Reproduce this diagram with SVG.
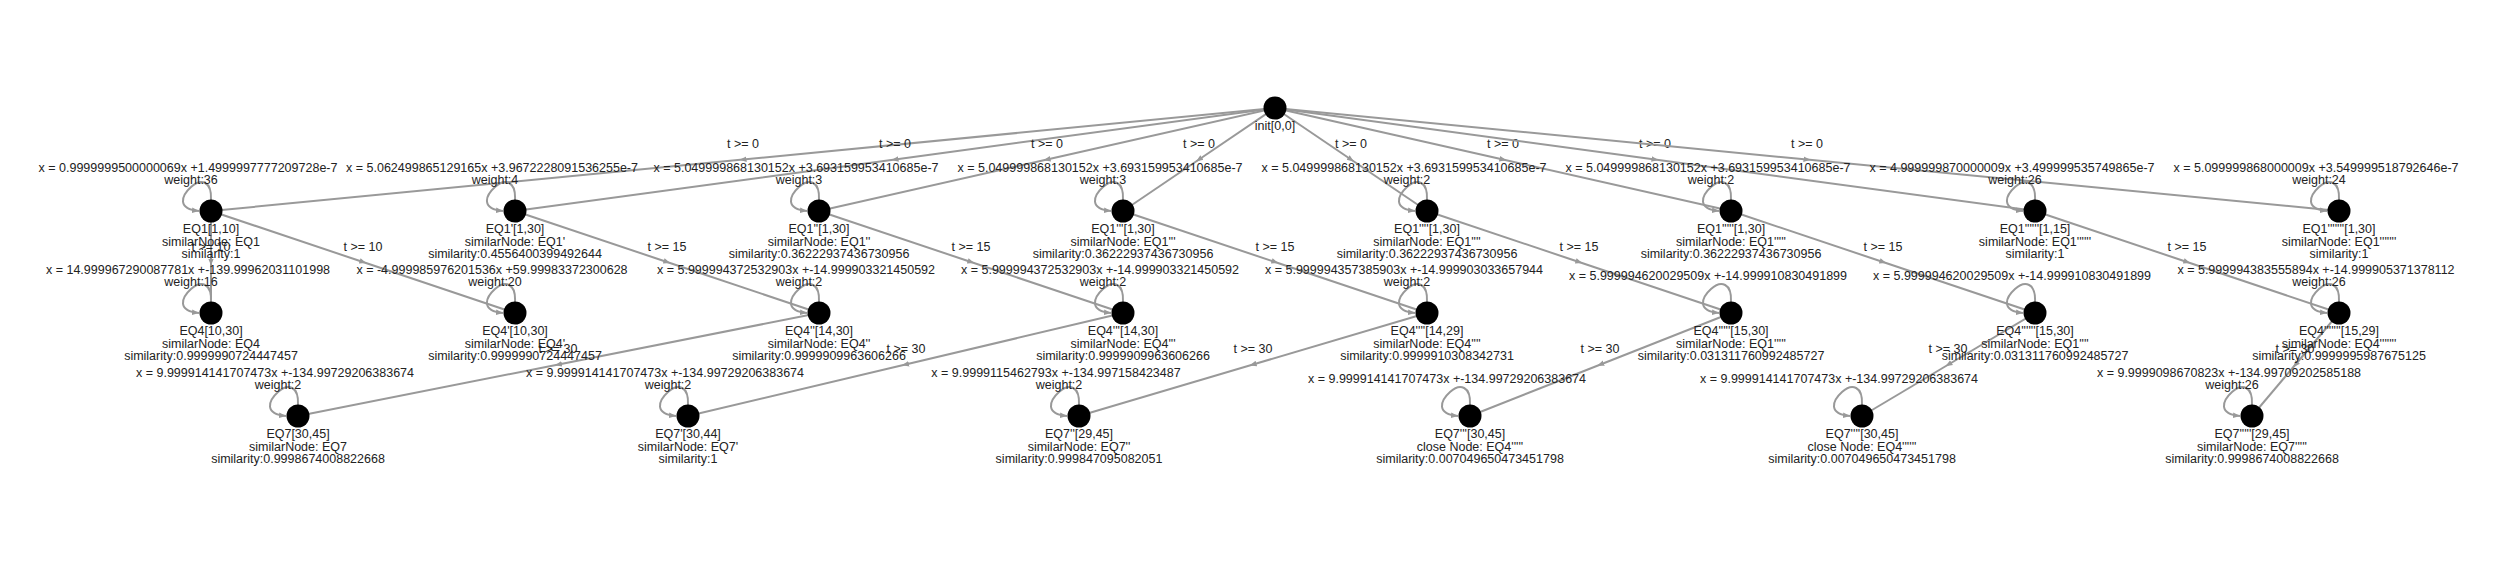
<svg xmlns="http://www.w3.org/2000/svg" width="2500" height="562" viewBox="0 0 2500 562">
<style>
text{font-family:"Liberation Sans",Arial,sans-serif;font-size:12.5px;fill:#222;text-anchor:middle}
.eq{transform:translateX(-23px)}
.w{transform:translateX(-20px)}
.edge{fill:none;stroke:#999;stroke-width:2;marker-mid:url(#amid)}
.loop{fill:none;stroke:#999;stroke-width:2;marker-end:url(#aend)}
circle{fill:#000}
</style>
<defs>
<marker id="amid" viewBox="0 -5 10 10" refX="5" refY="0" markerWidth="7" markerHeight="7" markerUnits="userSpaceOnUse" orient="auto"><path d="M0,-4L10,0L0,4Z" fill="#999"/></marker>
<marker id="aend" viewBox="0 -5 10 10" refX="10" refY="0" markerWidth="7" markerHeight="7" markerUnits="userSpaceOnUse" orient="auto"><path d="M0,-4L10,0L0,4Z" fill="#999"/></marker>
</defs>
<rect width="2500" height="562" fill="#fff"/>
<g id="connectors">
<path class="edge" d="M1275,108L743,159.5L211,211"/><text x="743" y="148">t &gt;= 0</text>
<path class="edge" d="M1275,108L895,159.5L515,211"/><text x="895" y="148">t &gt;= 0</text>
<path class="edge" d="M1275,108L1047,159.5L819,211"/><text x="1047" y="148">t &gt;= 0</text>
<path class="edge" d="M1275,108L1199,159.5L1123,211"/><text x="1199" y="148">t &gt;= 0</text>
<path class="edge" d="M1275,108L1351,159.5L1427,211"/><text x="1351" y="148">t &gt;= 0</text>
<path class="edge" d="M1275,108L1503,159.5L1731,211"/><text x="1503" y="148">t &gt;= 0</text>
<path class="edge" d="M1275,108L1655,159.5L2035,211"/><text x="1655" y="148">t &gt;= 0</text>
<path class="edge" d="M1275,108L1807,159.5L2339,211"/><text x="1807" y="148">t &gt;= 0</text>
<path class="edge" d="M211,211L211,262L211,313"/><text x="211" y="251">t &gt;= 10</text>
<path class="edge" d="M211,211L363,262L515,313"/><text x="363" y="251">t &gt;= 10</text>
<path class="edge" d="M515,211L667,262L819,313"/><text x="667" y="251">t &gt;= 15</text>
<path class="edge" d="M819,211L971,262L1123,313"/><text x="971" y="251">t &gt;= 15</text>
<path class="edge" d="M1123,211L1275,262L1427,313"/><text x="1275" y="251">t &gt;= 15</text>
<path class="edge" d="M1427,211L1579,262L1731,313"/><text x="1579" y="251">t &gt;= 15</text>
<path class="edge" d="M1731,211L1883,262L2035,313"/><text x="1883" y="251">t &gt;= 15</text>
<path class="edge" d="M2035,211L2187,262L2339,313"/><text x="2187" y="251">t &gt;= 15</text>
<path class="edge" d="M819,313L558.5,364.5L298,416"/><text x="558" y="353">t &gt;= 30</text>
<path class="edge" d="M1123,313L905.5,364.5L688,416"/><text x="906" y="353">t &gt;= 30</text>
<path class="edge" d="M1427,313L1253,364.5L1079,416"/><text x="1253" y="353">t &gt;= 30</text>
<path class="edge" d="M1731,313L1600.5,364.5L1470,416"/><text x="1600" y="353">t &gt;= 30</text>
<path class="edge" d="M2035,313L1948.5,364.5L1862,416"/><text x="1948" y="353">t &gt;= 30</text>
<path class="edge" d="M2339,313L2295.5,364.5L2252,416"/><text x="2295" y="353">t &gt;= 30</text>
</g>
<g id="init"><circle cx="1275" cy="108" r="11.5"/><text x="1275" y="130">init[0,0]</text></g>
<g id="EQ1_0" transform="translate(211,211)"><path class="loop" d="M0,-11C1,-30 -10,-33 -20,-24C-30,-15 -34,-2 -12,0"/><circle r="11.5"/><text class="eq" y="-39">x = 0.9999999500000069x +1.4999997777209728e-7</text><text class="w" y="-27">weight:36</text><text y="22">EQ1[1,10]</text><text y="34.5">similarNode: EQ1</text><text y="47">similarity:1</text></g>
<g id="EQ1_1" transform="translate(515,211)"><path class="loop" d="M0,-11C1,-30 -10,-33 -20,-24C-30,-15 -34,-2 -12,0"/><circle r="11.5"/><text class="eq" y="-39">x = 5.062499865129165x +3.9672228091536255e-7</text><text class="w" y="-27">weight:4</text><text y="22">EQ1'[1,30]</text><text y="34.5">similarNode: EQ1'</text><text y="47">similarity:0.4556400399492644</text></g>
<g id="EQ1_2" transform="translate(819,211)"><path class="loop" d="M0,-11C1,-30 -10,-33 -20,-24C-30,-15 -34,-2 -12,0"/><circle r="11.5"/><text class="eq" y="-39">x = 5.049999868130152x +3.693159953410685e-7</text><text class="w" y="-27">weight:3</text><text y="22">EQ1''[1,30]</text><text y="34.5">similarNode: EQ1''</text><text y="47">similarity:0.36222937436730956</text></g>
<g id="EQ1_3" transform="translate(1123,211)"><path class="loop" d="M0,-11C1,-30 -10,-33 -20,-24C-30,-15 -34,-2 -12,0"/><circle r="11.5"/><text class="eq" y="-39">x = 5.049999868130152x +3.693159953410685e-7</text><text class="w" y="-27">weight:3</text><text y="22">EQ1'''[1,30]</text><text y="34.5">similarNode: EQ1'''</text><text y="47">similarity:0.36222937436730956</text></g>
<g id="EQ1_4" transform="translate(1427,211)"><path class="loop" d="M0,-11C1,-30 -10,-33 -20,-24C-30,-15 -34,-2 -12,0"/><circle r="11.5"/><text class="eq" y="-39">x = 5.049999868130152x +3.693159953410685e-7</text><text class="w" y="-27">weight:2</text><text y="22">EQ1''''[1,30]</text><text y="34.5">similarNode: EQ1''''</text><text y="47">similarity:0.36222937436730956</text></g>
<g id="EQ1_5" transform="translate(1731,211)"><path class="loop" d="M0,-11C1,-30 -10,-33 -20,-24C-30,-15 -34,-2 -12,0"/><circle r="11.5"/><text class="eq" y="-39">x = 5.049999868130152x +3.693159953410685e-7</text><text class="w" y="-27">weight:2</text><text y="22">EQ1'''''[1,30]</text><text y="34.5">similarNode: EQ1'''''</text><text y="47">similarity:0.36222937436730956</text></g>
<g id="EQ1_6" transform="translate(2035,211)"><path class="loop" d="M0,-11C1,-30 -10,-33 -20,-24C-30,-15 -34,-2 -12,0"/><circle r="11.5"/><text class="eq" y="-39">x = 4.999999870000009x +3.499999535749865e-7</text><text class="w" y="-27">weight:26</text><text y="22">EQ1''''''[1,15]</text><text y="34.5">similarNode: EQ1''''''</text><text y="47">similarity:1</text></g>
<g id="EQ1_7" transform="translate(2339,211)"><path class="loop" d="M0,-11C1,-30 -10,-33 -20,-24C-30,-15 -34,-2 -12,0"/><circle r="11.5"/><text class="eq" y="-39">x = 5.099999868000009x +3.549999518792646e-7</text><text class="w" y="-27">weight:24</text><text y="22">EQ1'''''''[1,30]</text><text y="34.5">similarNode: EQ1'''''''</text><text y="47">similarity:1</text></g>
<g id="EQ4_0" transform="translate(211,313)"><path class="loop" d="M0,-11C1,-30 -10,-33 -20,-24C-30,-15 -34,-2 -12,0"/><circle r="11.5"/><text class="eq" y="-39">x = 14.999967290087781x +-139.99962031101998</text><text class="w" y="-27">weight:16</text><text y="22">EQ4[10,30]</text><text y="34.5">similarNode: EQ4</text><text y="47">similarity:0.9999990724447457</text></g>
<g id="EQ4_1" transform="translate(515,313)"><path class="loop" d="M0,-11C1,-30 -10,-33 -20,-24C-30,-15 -34,-2 -12,0"/><circle r="11.5"/><text class="eq" y="-39">x = -4.999985976201536x +59.99983372300628</text><text class="w" y="-27">weight:20</text><text y="22">EQ4'[10,30]</text><text y="34.5">similarNode: EQ4'</text><text y="47">similarity:0.9999990724447457</text></g>
<g id="EQ4_2" transform="translate(819,313)"><path class="loop" d="M0,-11C1,-30 -10,-33 -20,-24C-30,-15 -34,-2 -12,0"/><circle r="11.5"/><text class="eq" y="-39">x = 5.999994372532903x +-14.999903321450592</text><text class="w" y="-27">weight:2</text><text y="22">EQ4''[14,30]</text><text y="34.5">similarNode: EQ4''</text><text y="47">similarity:0.9999909963606266</text></g>
<g id="EQ4_3" transform="translate(1123,313)"><path class="loop" d="M0,-11C1,-30 -10,-33 -20,-24C-30,-15 -34,-2 -12,0"/><circle r="11.5"/><text class="eq" y="-39">x = 5.999994372532903x +-14.999903321450592</text><text class="w" y="-27">weight:2</text><text y="22">EQ4'''[14,30]</text><text y="34.5">similarNode: EQ4'''</text><text y="47">similarity:0.9999909963606266</text></g>
<g id="EQ4_4" transform="translate(1427,313)"><path class="loop" d="M0,-11C1,-30 -10,-33 -20,-24C-30,-15 -34,-2 -12,0"/><circle r="11.5"/><text class="eq" y="-39">x = 5.999994357385903x +-14.999903033657944</text><text class="w" y="-27">weight:2</text><text y="22">EQ4''''[14,29]</text><text y="34.5">similarNode: EQ4''''</text><text y="47">similarity:0.9999910308342731</text></g>
<g id="EQ4_5" transform="translate(1731,313)"><path class="loop" d="M0,-11C1,-30 -10,-33 -20,-24C-30,-15 -34,-2 -12,0"/><circle r="11.5"/><text class="eq" y="-33.5">x = 5.999994620029509x +-14.999910830491899</text><text y="22">EQ4'''''[15,30]</text><text y="34.5">similarNode: EQ1'''''</text><text y="47">similarity:0.031311760992485727</text></g>
<g id="EQ4_6" transform="translate(2035,313)"><path class="loop" d="M0,-11C1,-30 -10,-33 -20,-24C-30,-15 -34,-2 -12,0"/><circle r="11.5"/><text class="eq" y="-33.5">x = 5.999994620029509x +-14.999910830491899</text><text y="22">EQ4''''''[15,30]</text><text y="34.5">similarNode: EQ1''''</text><text y="47">similarity:0.031311760992485727</text></g>
<g id="EQ4_7" transform="translate(2339,313)"><path class="loop" d="M0,-11C1,-30 -10,-33 -20,-24C-30,-15 -34,-2 -12,0"/><circle r="11.5"/><text class="eq" y="-39">x = 5.999994383555894x +-14.999905371378112</text><text class="w" y="-27">weight:26</text><text y="22">EQ4'''''''[15,29]</text><text y="34.5">similarNode: EQ4'''''''</text><text y="47">similarity:0.9999995987675125</text></g>
<g id="EQ7_0" transform="translate(298,416)"><path class="loop" d="M0,-11C1,-30 -10,-33 -20,-24C-30,-15 -34,-2 -12,0"/><circle r="11.5"/><text class="eq" y="-39">x = 9.999914141707473x +-134.99729206383674</text><text class="w" y="-27">weight:2</text><text y="22">EQ7[30,45]</text><text y="34.5">similarNode: EQ7</text><text y="47">similarity:0.9998674008822668</text></g>
<g id="EQ7_1" transform="translate(688,416)"><path class="loop" d="M0,-11C1,-30 -10,-33 -20,-24C-30,-15 -34,-2 -12,0"/><circle r="11.5"/><text class="eq" y="-39">x = 9.999914141707473x +-134.99729206383674</text><text class="w" y="-27">weight:2</text><text y="22">EQ7'[30,44]</text><text y="34.5">similarNode: EQ7'</text><text y="47">similarity:1</text></g>
<g id="EQ7_2" transform="translate(1079,416)"><path class="loop" d="M0,-11C1,-30 -10,-33 -20,-24C-30,-15 -34,-2 -12,0"/><circle r="11.5"/><text class="eq" y="-39">x = 9.9999115462793x +-134.997158423487</text><text class="w" y="-27">weight:2</text><text y="22">EQ7''[29,45]</text><text y="34.5">similarNode: EQ7''</text><text y="47">similarity:0.999847095082051</text></g>
<g id="EQ7_3" transform="translate(1470,416)"><path class="loop" d="M0,-11C1,-30 -10,-33 -20,-24C-30,-15 -34,-2 -12,0"/><circle r="11.5"/><text class="eq" y="-33.5">x = 9.999914141707473x +-134.99729206383674</text><text y="22">EQ7'''[30,45]</text><text y="34.5">close Node: EQ4'''''</text><text y="47">similarity:0.007049650473451798</text></g>
<g id="EQ7_4" transform="translate(1862,416)"><path class="loop" d="M0,-11C1,-30 -10,-33 -20,-24C-30,-15 -34,-2 -12,0"/><circle r="11.5"/><text class="eq" y="-33.5">x = 9.999914141707473x +-134.99729206383674</text><text y="22">EQ7''''[30,45]</text><text y="34.5">close Node: EQ4''''''</text><text y="47">similarity:0.007049650473451798</text></g>
<g id="EQ7_5" transform="translate(2252,416)"><path class="loop" d="M0,-11C1,-30 -10,-33 -20,-24C-30,-15 -34,-2 -12,0"/><circle r="11.5"/><text class="eq" y="-39">x = 9.9999098670823x +-134.99709202585188</text><text class="w" y="-27">weight:26</text><text y="22">EQ7'''''[29,45]</text><text y="34.5">similarNode: EQ7'''''</text><text y="47">similarity:0.9998674008822668</text></g>
</svg>
